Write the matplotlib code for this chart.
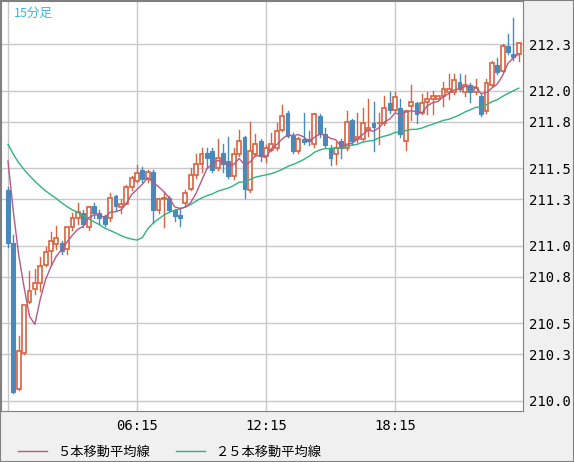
import matplotlib
matplotlib.use("Agg")
import matplotlib.pyplot as plt
from matplotlib.lines import Line2D
from matplotlib.patches import Rectangle
import numpy as np

prior_closes = [211.66, 211.70, 211.72, 211.68, 211.65, 211.69, 211.71, 211.67,
                211.64, 211.68, 211.72, 211.70, 211.66, 211.69, 211.71, 211.67,
                211.66, 211.70, 211.68, 211.65, 211.70, 211.72, 211.66, 211.64]

opens = [211.36,211.02,210.08,210.31,210.64,210.72,210.76,210.88,210.97,211.01,
         211.02,210.98,211.12,211.18,211.21,211.12,211.26,211.21,211.19,211.18,
         211.32,211.25,211.27,211.38,211.42,211.49,211.43,211.48,211.23,211.30,
         211.31,211.23,211.20,211.28,211.37,211.46,211.53,211.60,211.61,211.50,
         211.60,211.55,211.45,211.59,211.70,211.36,211.59,211.68,211.58,211.62,
         211.63,211.75,211.86,211.71,211.61,211.69,211.69,211.66,211.84,211.72,
         211.63,211.59,211.68,211.63,211.81,211.69,211.69,211.75,211.79,211.79,
         211.79,211.92,211.88,211.89,211.68,211.90,211.92,211.86,211.93,211.95,
         211.95,211.97,211.99,211.99,212.06,211.99,212.04,211.99,211.97,211.87,
         212.04,212.17,212.13,212.29,212.24,212.24]
highs = [211.38,211.07,210.42,210.62,210.84,210.85,210.93,210.99,211.09,211.13,
         211.03,211.12,211.21,211.28,211.23,211.26,211.28,211.23,211.20,211.34,
         211.33,211.30,211.39,211.45,211.52,211.51,211.49,211.49,211.31,211.35,
         211.32,211.24,211.24,211.36,211.50,211.59,211.63,211.63,211.63,211.69,
         211.66,211.70,211.63,211.75,211.71,211.80,211.72,211.69,211.65,211.73,
         211.79,211.91,211.87,211.73,211.70,211.86,211.74,211.86,211.85,211.76,
         211.65,211.67,211.69,211.87,211.82,211.86,211.89,211.95,211.93,211.86,
         211.97,211.99,211.99,211.95,211.88,212.04,211.93,211.98,211.99,212.00,
         211.97,212.06,212.11,212.11,212.11,212.10,212.05,212.08,211.98,212.08,
         212.19,212.21,212.30,212.37,212.47,212.31]
lows = [210.99,210.05,210.07,210.30,210.63,210.69,210.71,210.87,210.88,210.98,
        210.95,210.95,211.10,211.14,211.12,211.10,211.18,211.14,211.13,211.16,
        211.23,211.21,211.27,211.36,211.41,211.41,211.41,211.15,211.21,211.12,
        211.22,211.16,211.13,211.26,211.36,211.44,211.48,211.50,211.48,211.49,
        211.48,211.44,211.43,211.58,211.31,211.35,211.58,211.55,211.54,211.61,
        211.62,211.74,211.70,211.60,211.60,211.66,211.65,211.64,211.70,211.64,
        211.52,211.53,211.57,211.62,211.66,211.67,211.68,211.71,211.61,211.66,
        211.78,211.86,211.87,211.70,211.62,211.81,211.79,211.85,211.85,211.85,
        211.95,211.90,211.95,211.98,212.00,211.97,211.93,211.98,211.84,211.86,
        212.03,212.11,212.12,212.24,212.20,212.19]
closes = [211.02,210.06,210.32,210.62,210.71,210.76,210.87,210.96,211.03,211.05,
          210.97,211.12,211.18,211.22,211.14,211.25,211.21,211.18,211.14,211.31,
          211.26,211.27,211.38,211.44,211.47,211.43,211.48,211.23,211.30,211.31,
          211.23,211.19,211.18,211.34,211.46,211.53,211.59,211.57,211.49,211.57,
          211.53,211.45,211.59,211.68,211.37,211.61,211.66,211.58,211.63,211.66,
          211.74,211.84,211.71,211.61,211.69,211.67,211.68,211.85,211.72,211.65,
          211.57,211.63,211.63,211.80,211.68,211.70,211.79,211.76,211.77,211.79,
          211.89,211.88,211.96,211.72,211.87,211.93,211.85,211.92,211.95,211.97,
          211.97,212.01,212.01,212.07,212.01,212.04,211.99,212.02,211.85,212.05,
          212.18,212.12,212.29,212.25,212.22,212.31]

x_labels = {24: "06:15", 48: "12:15", 72: "18:15"}
y_ticks = [210.0, 210.3, 210.5, 210.8, 211.0, 211.3, 211.5, 211.8, 212.0, 212.3]

RED = "#d9623f"; BLUE = "#4a89bd"; MA5C = "#b45a86"; MA25C = "#2fb47c"

allc = np.array(prior_closes + closes)
n = len(closes)
ma5 = np.convolve(allc, np.ones(5) / 5, mode="valid")[-n:]
ma25 = np.convolve(allc, np.ones(25) / 25, mode="valid")[-n:]

W, H = 574, 462
fig = plt.figure(figsize=(W / 100, H / 100), dpi=100, facecolor="#f0f0f0")
ax = fig.add_axes([1 / W, 51 / H, 522 / W, 410 / H])
ax.set_facecolor("white")
ax.set_xlim(-1.3, 95.8)
ax.set_ylim(209.935, 212.58)

for t in y_ticks:
    ax.axhline(t, color="#c8c8c8", lw=1, zorder=0)
for k in [0] + list(x_labels):
    ax.axvline(k, color="#c8c8c8", lw=1, zorder=0)

bw = 0.72
for i in range(n):
    o, h, l, c = opens[i], highs[i], lows[i], closes[i]
    up = c >= o
    col = RED if up else BLUE
    lo, hi = min(o, c), max(o, c)
    ax.plot([i, i], [l, lo], color=col, lw=1, zorder=2)
    ax.plot([i, i], [hi, h], color=col, lw=1, zorder=2)
    if up:
        ax.add_patch(Rectangle((i - bw / 2, lo), bw, max(hi - lo, 0.004),
                               facecolor="white", edgecolor=col, lw=1.2, zorder=3))
    else:
        ax.add_patch(Rectangle((i - bw / 2, lo), bw, max(hi - lo, 0.004),
                               facecolor=col, edgecolor=col, lw=0.8, zorder=3))

xs = np.arange(n)
ax.plot(xs, ma25, color=MA25C, lw=1, zorder=4)
ax.plot(xs, ma5, color=MA5C, lw=1, zorder=4)

ax.yaxis.tick_right()
ax.set_yticks(y_ticks)
ax.set_yticklabels([f"{t:.1f}" for t in y_ticks], family="DejaVu Sans Mono", fontsize=10)
ax.set_xticks(list(x_labels))
ax.set_xticklabels(list(x_labels.values()), family="DejaVu Sans Mono", fontsize=10)
ax.tick_params(length=0, pad=6, colors="black")
ax.tick_params(axis="y", pad=4)
for s in ax.spines.values():
    s.set_color("#808080")

ax.text(0.025, 0.985, "15分足", transform=ax.transAxes, ha="left", va="top",
        color="#3cb4e6", fontsize=9, family=["Noto Sans CJK JP", "DejaVu Sans"])

handles = [Line2D([], [], color=MA5C, lw=1), Line2D([], [], color=MA25C, lw=1)]
fig.legend(handles, ["５本移動平均線", "２５本移動平均線"], loc="center left",
           bbox_to_anchor=(0.01, 10 / H), ncol=2, frameon=False, handlelength=2.2,
           columnspacing=2.0, prop={"family": ["Noto Sans CJK JP", "DejaVu Sans"], "size": 9.5})

fig.patches.append(Rectangle((0, 0), 1, 1, transform=fig.transFigure, fill=False,
                             edgecolor="#808080", lw=1.5))
fig.savefig("out.png", dpi=100, facecolor=fig.get_facecolor())
